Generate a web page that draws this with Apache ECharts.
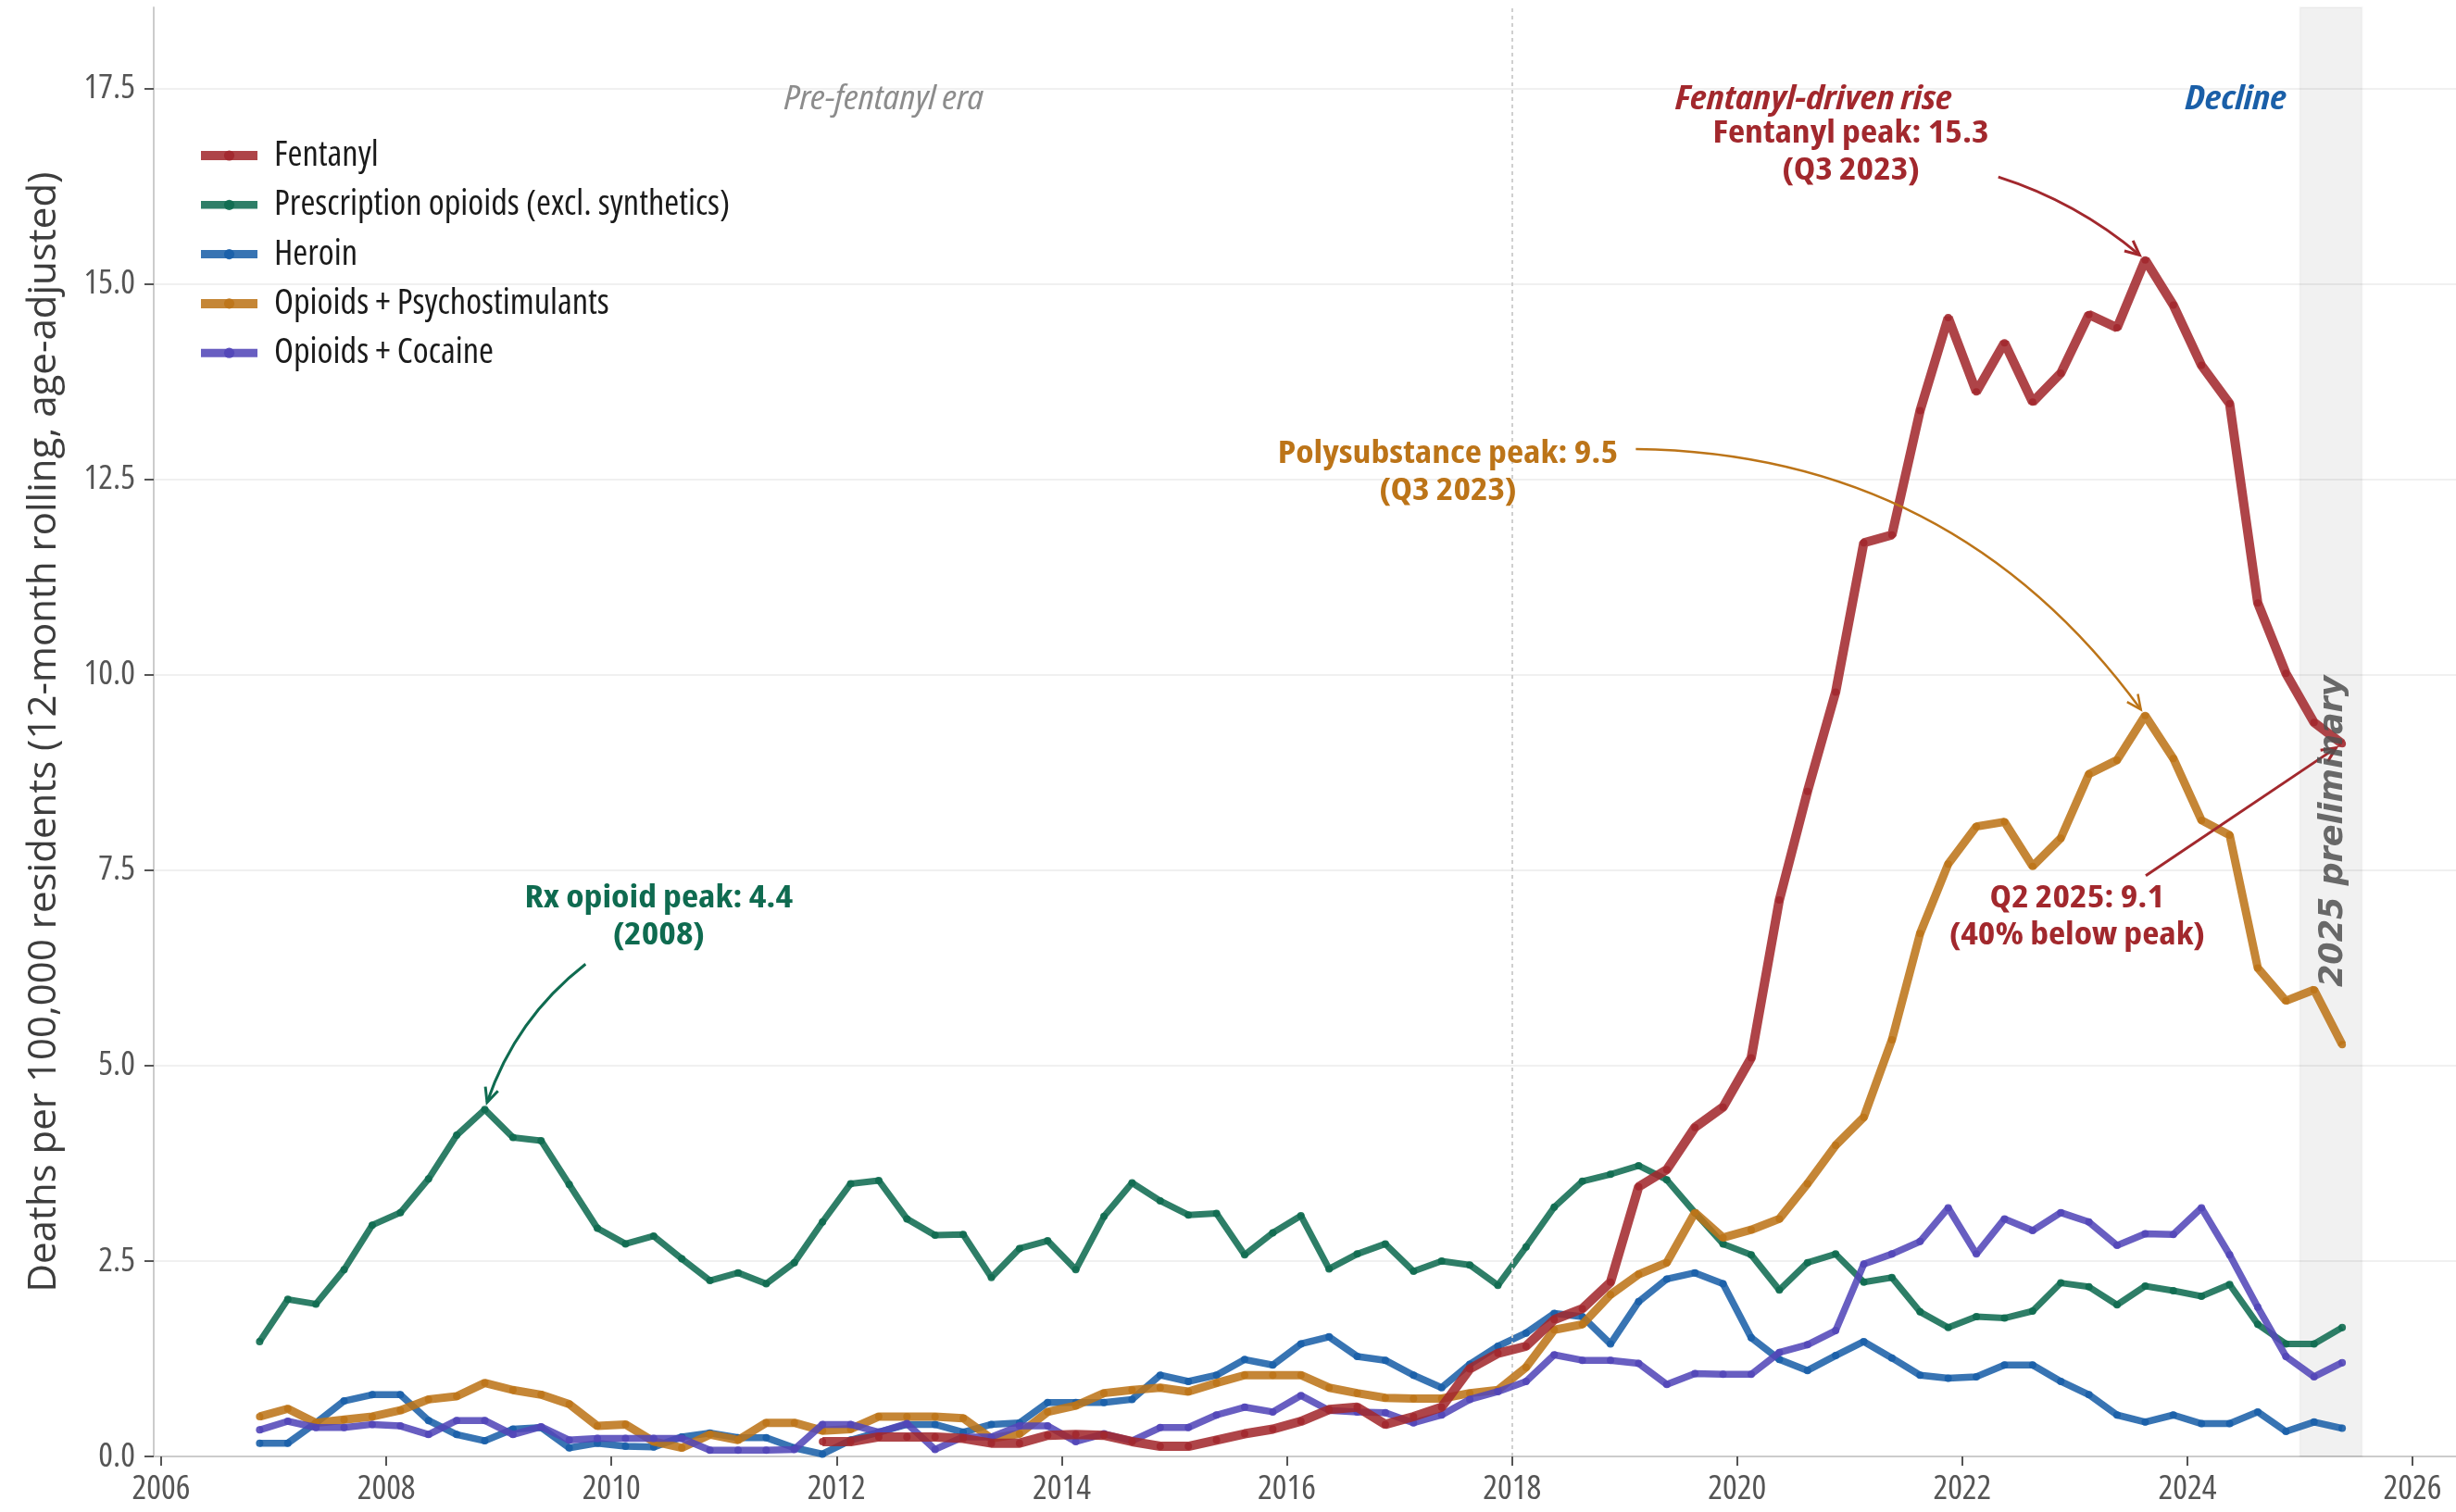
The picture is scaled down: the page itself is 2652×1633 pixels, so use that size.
<!DOCTYPE html>
<html><head><meta charset="utf-8">
<script src="https://cdn.jsdelivr.net/npm/echarts@6/dist/echarts.min.js"></script>
<style>html,body{margin:0;padding:0;background:#fff}#chart{width:2652px;height:1633px}</style>
</head><body><div id="chart"></div>
<script>
// ---------------- data ----------------
const quarters = [
 '2006 Q4',
 '2007 Q1','2007 Q2','2007 Q3','2007 Q4','2008 Q1','2008 Q2','2008 Q3','2008 Q4',
 '2009 Q1','2009 Q2','2009 Q3','2009 Q4','2010 Q1','2010 Q2','2010 Q3','2010 Q4',
 '2011 Q1','2011 Q2','2011 Q3','2011 Q4','2012 Q1','2012 Q2','2012 Q3','2012 Q4',
 '2013 Q1','2013 Q2','2013 Q3','2013 Q4','2014 Q1','2014 Q2','2014 Q3','2014 Q4',
 '2015 Q1','2015 Q2','2015 Q3','2015 Q4','2016 Q1','2016 Q2','2016 Q3','2016 Q4',
 '2017 Q1','2017 Q2','2017 Q3','2017 Q4','2018 Q1','2018 Q2','2018 Q3','2018 Q4',
 '2019 Q1','2019 Q2','2019 Q3','2019 Q4','2020 Q1','2020 Q2','2020 Q3','2020 Q4',
 '2021 Q1','2021 Q2','2021 Q3','2021 Q4','2022 Q1','2022 Q2','2022 Q3','2022 Q4',
 '2023 Q1','2023 Q2','2023 Q3','2023 Q4','2024 Q1','2024 Q2','2024 Q3','2024 Q4',
 '2025 Q1','2025 Q2'
];
const fentanyl = [
 null,null,null,null,null,null,null,null,null,null,
 null,null,null,null,null,null,null,null,null,null,
 0.19,0.19,0.25,0.25,0.25,0.23,0.17,0.17,0.27,0.28,
 0.27,0.19,0.13,0.13,0.21,0.29,0.35,0.45,0.60,0.63,
 0.41,0.51,0.63,1.12,1.32,1.41,1.75,1.89,2.23,3.45,
 3.67,4.21,4.47,5.10,7.12,8.51,9.78,11.69,11.79,13.38,
 14.57,13.62,14.25,13.49,13.86,14.61,14.44,15.31,14.73,13.96,
 13.47,10.92,10.02,9.39,9.12
];
const rxOpioids = [
 1.47,2.01,1.95,2.39,2.96,3.12,3.55,4.11,4.44,4.08,
 4.04,3.48,2.92,2.72,2.82,2.53,2.25,2.35,2.21,2.48,
 3.00,3.49,3.53,3.04,2.83,2.84,2.29,2.66,2.76,2.39,
 3.07,3.50,3.27,3.09,3.11,2.58,2.86,3.08,2.40,2.59,
 2.72,2.37,2.50,2.45,2.19,2.68,3.19,3.52,3.61,3.72,
 3.54,3.12,2.72,2.58,2.13,2.48,2.59,2.23,2.29,1.85,
 1.65,1.79,1.77,1.86,2.22,2.17,1.94,2.18,2.12,2.05,
 2.20,1.69,1.44,1.44,1.65
];
const heroin = [
 0.17,0.17,0.43,0.71,0.79,0.79,0.46,0.28,0.20,0.35,
 0.37,0.11,0.17,0.13,0.12,0.25,0.30,0.24,0.24,0.11,
 0.03,0.21,0.31,0.41,0.41,0.31,0.41,0.43,0.69,0.69,
 0.69,0.73,1.04,0.96,1.04,1.24,1.17,1.44,1.53,1.28,
 1.23,1.04,0.88,1.18,1.41,1.58,1.83,1.79,1.44,1.98,
 2.27,2.35,2.21,1.52,1.24,1.10,1.29,1.47,1.26,1.04,
 1.00,1.02,1.17,1.17,0.96,0.79,0.53,0.44,0.53,0.42,
 0.42,0.57,0.32,0.44,0.36
];
const psychostim = [
 0.51,0.61,0.43,0.47,0.51,0.59,0.73,0.77,0.94,0.85,
 0.79,0.67,0.39,0.41,0.19,0.11,0.28,0.21,0.43,0.43,
 0.33,0.35,0.51,0.51,0.51,0.49,0.23,0.29,0.57,0.65,
 0.81,0.85,0.88,0.83,0.94,1.04,1.04,1.04,0.88,0.81,
 0.75,0.74,0.74,0.81,0.85,1.14,1.62,1.69,2.07,2.33,
 2.48,3.12,2.80,2.90,3.04,3.49,3.98,4.34,5.33,6.69,
 7.58,8.06,8.12,7.55,7.91,8.73,8.91,9.48,8.93,8.14,
 7.95,6.25,5.83,5.97,5.27
];
const cocaine = [
 0.34,0.45,0.37,0.37,0.41,0.39,0.28,0.46,0.46,0.28,
 0.38,0.21,0.23,0.23,0.23,0.23,0.08,0.08,0.08,0.09,
 0.41,0.41,0.31,0.42,0.09,0.25,0.25,0.39,0.39,0.19,
 0.29,0.20,0.37,0.37,0.53,0.63,0.57,0.78,0.59,0.57,
 0.56,0.43,0.53,0.73,0.83,0.96,1.30,1.23,1.23,1.19,
 0.92,1.06,1.05,1.05,1.33,1.43,1.61,2.46,2.59,2.75,
 3.18,2.59,3.04,2.89,3.12,3.00,2.70,2.85,2.84,3.18,
 2.58,1.91,1.28,1.02,1.20
];
const seriesNames = ['Fentanyl','Prescription opioids (excl. synthetics)','Heroin','Opioids + Psychostimulants','Opioids + Cocaine'];
const xTicks = [2006,2008,2010,2012,2014,2016,2018,2020,2022,2024,2026];
const yTicks = [0,2.5,5,7.5,10,12.5,15,17.5];
const eraDivider = 2018;
const shadeRange = [2025.0, 2025.55];
const yTitle = 'Deaths per 100,000 residents (12-month rolling, age-adjusted)';

// ---------------- styling ----------------
const COLORS = {fent:'#A2282D', rx:'#0F6B50', heroin:'#1A5FA8', psych:'#BC7418', cocaine:'#5246B8'};
const FONT = "'Open Sans', 'DejaVu Sans Condensed', sans-serif";
const COND = 'normal condensed';
const WIDEN = 1.167;   // horizontal stretch of condensed annotation text
const WIDTHS = {fent:10, rx:7, heroin:7.5, psych:9, cocaine:7.5};

function qToYear(q){ const p = q.split(' Q'); return +p[0] + (+p[1]-1)*0.25 + 0.125; }
const xs = quarters.map(qToYear);
function pairs(vals){ const out=[]; vals.forEach((v,i)=>{ if(v!=null) out.push([xs[i], v]); }); return out; }

const defs = [
 {name:seriesNames[1], vals:rxOpioids, color:COLORS.rx, w:WIDTHS.rx},
 {name:seriesNames[2], vals:heroin, color:COLORS.heroin, w:WIDTHS.heroin},
 {name:seriesNames[3], vals:psychostim, color:COLORS.psych, w:WIDTHS.psych},
 {name:seriesNames[4], vals:cocaine, color:COLORS.cocaine, w:WIDTHS.cocaine},
 {name:seriesNames[0], vals:fentanyl, color:COLORS.fent, w:WIDTHS.fent}
];

const chart = echarts.init(document.getElementById('chart'), null, {renderer:'canvas'});
const series = defs.map((d,k)=>{
  const s = {
    name:d.name, type:'line', data:pairs(d.vals), z:3+k,
    symbol:'circle', symbolSize:8, showSymbol:true,
    lineStyle:{color:d.color, width:d.w, opacity:0.87},
    itemStyle:{color:d.color, opacity:0.9, borderWidth:0},
    emphasis:{disabled:true}, silent:true, animation:false
  };
  if(k===0){
    s.markArea = {silent:true, itemStyle:{color:'rgba(0,0,0,0.055)', borderColor:'rgba(0,0,0,0.03)', borderWidth:2},
      data:[[{xAxis:shadeRange[0]},{xAxis:shadeRange[1]}]]};
    s.markLine = {silent:true, symbol:['none','none'], label:{show:false},
      lineStyle:{type:[4,4], color:'#cfcfcf', width:2}, data:[{xAxis:eraDivider}]};
  }
  return s;
});

const legendWidth = {};
legendWidth[seriesNames[0]] = 10; legendWidth[seriesNames[1]] = 8.5; legendWidth[seriesNames[2]] = 9;
legendWidth[seriesNames[3]] = 10; legendWidth[seriesNames[4]] = 9;

const option = {
  animation:false,
  backgroundColor:'#ffffff',
  grid:{left:166, right:0, top:8, bottom:60, containLabel:false, outerBoundsMode:'none'},
  xAxis:{type:'value', min:2005.934, max:2026.386,
    axisLine:{show:true, onZero:false, lineStyle:{color:'#cccccc', width:2}},
    axisTick:{show:true, length:10, customValues:xTicks, lineStyle:{color:'#555555', width:2}},
    axisLabel:{customValues:xTicks, formatter:v=>String(Math.round(v)), fontSize:37, fontFamily:FONT, fontStyle:COND, color:'#555555', margin:17},
    splitLine:{show:false}},
  yAxis:{type:'value', min:0, max:18.54, interval:2.5,
    axisLine:{show:true, lineStyle:{color:'#cccccc', width:2}},
    axisTick:{show:true, length:10, customValues:yTicks, lineStyle:{color:'#555555', width:2}},
    axisLabel:{customValues:yTicks, formatter:v=>v.toFixed(1), fontSize:37, fontFamily:FONT, fontStyle:COND, color:'#555555', margin:20},
    splitLine:{show:true, lineStyle:{color:'#ebebeb', width:1.5}}},
  legend:{orient:'vertical', left:212, top:148.5, padding:0, itemWidth:61, itemHeight:14, itemGap:14.3,
    selectedMode:false,
    data:seriesNames.map(n=>({name:n, lineStyle:{width:legendWidth[n]}})),
    textStyle:{fontSize:38.5, lineHeight:39, fontFamily:FONT, fontStyle:COND, color:'#1a1a1a', padding:[0,0,0,13]}},
  series:series
};
chart.setOption(option);

// ---------------- annotations ----------------
function argmax(a){ let bi=-1; a.forEach((v,i)=>{ if(v!=null && (bi<0 || v>a[bi])) bi=i; }); return bi; }
const iF = argmax(fentanyl), iP = argmax(psychostim), iR = argmax(rxOpioids), iL = fentanyl.length-1;
const annotations = [
  {text:'Fentanyl peak: 15.3\n(Q3 2023)', color:COLORS.fent, at:[2021.01,16.69], from:[2022.32,16.37], to:[xs[iF], fentanyl[iF]], rad:0.1, lw:3},
  {text:'Polysubstance peak: 9.5\n(Q3 2023)', color:COLORS.psych, at:[2017.43,12.59], from:[2019.10,12.89], to:[xs[iP], psychostim[iP]], rad:0.25, lw:2.5},
  {text:'Rx opioid peak: 4.4\n(2008)', color:COLORS.rx, at:[2010.42,6.90], from:[2009.77,6.30], to:[xs[iR], rxOpioids[iR]], rad:-0.15, lw:3},
  {text:'Q2 2025: 9.1\n(40% below peak)', color:COLORS.fent, at:[2023.02,6.90], from:[2023.63,7.43], to:[xs[iL], fentanyl[iL]], rad:0, lw:3}
];
const eraLabels = [
  {text:'Pre-fentanyl era', at:[2012.42,17.36], color:'#8c8c8c', weight:'normal'},
  {text:'Fentanyl-driven rise', at:[2020.68,17.36], color:COLORS.fent, weight:'bold'},
  {text:'Decline', at:[2024.43,17.36], color:COLORS.heroin, weight:'bold'}
];
const P = (x,y)=>chart.convertToPixel({gridIndex:0},[x,y]);
const g = [];
function ctrl(p0,p2,rad){ const mx=(p0[0]+p2[0])/2, my=(p0[1]+p2[1])/2, dx=p2[0]-p0[0], dy=p2[1]-p0[1]; return [mx+rad*dy, my-rad*dx]; }
annotations.forEach(a=>{
  const t = P(a.at[0],a.at[1]);
  g.push({type:'text', x:t[0], y:t[1], scaleX:WIDEN, z:60, silent:true,
    style:{text:a.text, fontFamily:FONT, fontSize:34, fontWeight:'bold', fontStyle:COND, fill:a.color,
      align:'center', verticalAlign:'middle', textAlign:'center', textVerticalAlign:'middle', lineHeight:40}});
  const p0 = P(a.from[0],a.from[1]);
  const tgt = P(a.to[0],a.to[1]);
  let c = ctrl(p0,tgt,a.rad);
  let ux=tgt[0]-c[0], uy=tgt[1]-c[1]; let L=Math.hypot(ux,uy); ux/=L; uy/=L;
  const e = [tgt[0]-ux*8, tgt[1]-uy*8];
  c = ctrl(p0,e,a.rad);
  g.push({type:'bezierCurve', z:55, silent:true,
    shape:{x1:p0[0], y1:p0[1], x2:e[0], y2:e[1], cpx1:c[0], cpy1:c[1]},
    style:{stroke:a.color, lineWidth:a.lw, fill:null}});
  ux=e[0]-c[0]; uy=e[1]-c[1]; L=Math.hypot(ux,uy); ux/=L; uy/=L;
  const hl=17, ang=25*Math.PI/180;
  const rot=(x,y,t)=>[x*Math.cos(t)-y*Math.sin(t), x*Math.sin(t)+y*Math.cos(t)];
  const r1=rot(ux,uy,ang), r2=rot(ux,uy,-ang);
  g.push({type:'polyline', z:55, silent:true,
    shape:{points:[[e[0]-hl*r1[0], e[1]-hl*r1[1]],[e[0],e[1]],[e[0]-hl*r2[0], e[1]-hl*r2[1]]]},
    style:{stroke:a.color, lineWidth:a.lw, fill:null}});
});
eraLabels.forEach(l=>{
  const t = P(l.at[0],l.at[1]);
  g.push({type:'text', x:t[0], y:t[1], scaleX:WIDEN, z:60, silent:true,
    style:{text:l.text, fontFamily:FONT, fontSize:36, fontWeight:l.weight, fontStyle:'italic condensed', fill:l.color,
      align:'center', verticalAlign:'middle', textAlign:'center', textVerticalAlign:'middle'}});
});
// shaded-region label
{
  const t = P(2025.3, 8.0);
  g.push({type:'text', x:t[0], y:t[1], rotation:Math.PI/2, z:60, silent:true,
    style:{text:'2025 preliminary', fontFamily:"'DejaVu Sans', sans-serif", fontSize:35, fontWeight:'bold', fontStyle:'italic', fill:'rgba(80,80,80,0.85)',
      align:'center', verticalAlign:'middle', textAlign:'center', textVerticalAlign:'middle'}});
}
// y-axis title
{
  const yTop = P(2010, 18.54)[1], yBot = P(2010, 0)[1];
  g.push({type:'text', x:48, y:(yTop+yBot)/2, rotation:Math.PI/2, z:60, silent:true,
    style:{text:yTitle, fontFamily:FONT, fontSize:42, fill:'#3d3d3d',
      align:'center', verticalAlign:'middle', textAlign:'center', textVerticalAlign:'middle'}});
}
chart.setOption({graphic:g});
</script>
</body></html>
